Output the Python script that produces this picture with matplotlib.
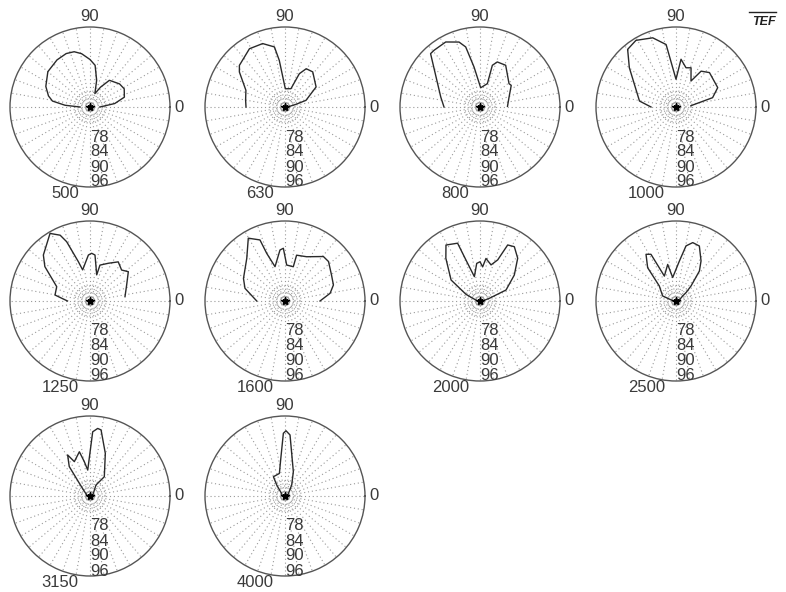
import numpy as np
import matplotlib
matplotlib.use("Agg")
import matplotlib.pyplot as plt

# polar directivity, levels in dB, angle in degrees (0 = right, 90 = up)
freqs = ["500", "630", "800", "1000", "1250", "1600", "2000", "2500", "3150", "4000"]
ring_labels = [78, 84, 90, 96]

ang_500 = [0, 8, 16, 28, 38, 54, 62, 70, 76, 83, 90, 99, 106, 114, 125, 140, 155, 165, 171, 176, 180]
lev_500 = [70, 76, 80.3, 81.5, 81, 79.2, 75, 71.7, 77, 82.8, 85, 87.6, 89, 89.4, 89, 88, 85.5, 83.2, 81.2, 76, 70]

ang_630 = [0, 13.6, 17.6, 32.8, 51.7, 61, 66.7, 72, 89, 97, 100, 109.4, 121.4, 137.6, 142.5, 156.9, 170, 180]
lev_630 = [67, 70.5, 74.8, 80.8, 83.9, 83.5, 80.5, 73.7, 73.3, 84.8, 90.4, 92.9, 93.3, 90.7, 89, 83, 82, 81.6]

ang_800 = [1.4, 19, 34.7, 38.8, 58.4, 69, 73.5, 72.5, 88, 98.5, 103.4, 107.9, 117.8, 129, 132.8, 165.7, 180]
lev_800 = [77, 78.3, 81.2, 80.9, 85.6, 85.3, 83.4, 75.8, 73.7, 82.2, 90.7, 93.3, 95.4, 95.2, 95.1, 82.2, 80.4]

ang_1000 = [5, 14.3, 24.9, 45.8, 55, 60, 69, 75.7, 84, 90, 99, 108.6, 121, 130, 139.9, 170.7, 180]
lev_1000 = [72, 81.1, 84.4, 85.2, 83.5, 78, 82.8, 82.2, 85.2, 77.1, 91.3, 95.2, 97.1, 96.1, 90.4, 80.8, 76]

ang_1250 = [7, 23.6, 37.4, 44.4, 54.2, 64, 74.5, 75.6, 83.8, 88, 92, 103.3, 106.5, 111.5, 114.4, 120.6, 135.4, 142.7, 156.7, 170.3, 180]
lev_1250 = [80.1, 82, 85.3, 83.7, 85.3, 82.8, 80.9, 76.8, 84.5, 85.1, 84.4, 78.8, 82.4, 91.5, 94.9, 97.4, 92.2, 88.7, 80.5, 80.2, 75]

ang_1600 = [0, 9.7, 18.3, 29.1, 42.2, 49.2, 64, 75.8, 76.4, 87.3, 91.8, 95.6, 106.2, 111, 112.3, 120.3, 131.9, 151.5, 162.4, 180]
lev_1600 = [80, 84.3, 86.4, 87.3, 89.5, 89.5, 85.7, 84.9, 80.1, 80.4, 87.1, 86.5, 80.3, 86.4, 92.4, 95.1, 88.9, 84.9, 82.8, 77.3]

ang_2000 = [0, 16, 22.9, 37.1, 48.6, 57.7, 63.7, 66.7, 73, 82, 85.6, 90, 95, 103, 108.9, 111.2, 121.3, 128.6, 144, 154.5, 180]
lev_2000 = [67, 69.9, 77.3, 83.2, 88.8, 91.7, 91, 83.9, 81.1, 83.2, 79.7, 81.7, 81.1, 76, 83.3, 90.8, 92.2, 87.9, 80.3, 72.2, 67]

ang_2500 = [0, 36.9, 39.8, 45, 52, 58, 67, 74, 79.7, 85.2, 98, 102.8, 115, 118.2, 122.7, 130.4, 138, 159.4, 180]
lev_2500 = [67, 69.3, 71.2, 74.5, 81.2, 84.9, 89.9, 90.3, 88.4, 82, 75.5, 81, 77, 87.2, 88.2, 83.5, 75, 71.7, 67]

ang_3150 = [0, 61.4, 53.4, 70.2, 80.5, 83.5, 87.6, 95, 99.4, 103.5, 114.5, 118.6, 125.2, 130, 140, 180]
lev_3150 = [67, 71, 75.6, 84.1, 92.8, 93.2, 91.7, 76.4, 79.9, 84.2, 81.1, 84.7, 80.4, 72.6, 69, 67]

ang_4000 = [0, 58.8, 71.1, 85.3, 89.1, 91.5, 96.9, 104, 121, 127, 140, 180]
lev_4000 = [67, 71.2, 76.3, 90.5, 92.1, 91.1, 80.5, 75.3, 75, 71.5, 68, 67]

curves = [(ang_500, lev_500), (ang_630, lev_630), (ang_800, lev_800),
          (ang_1000, lev_1000), (ang_1250, lev_1250), (ang_1600, lev_1600),
          (ang_2000, lev_2000), (ang_2500, lev_2500), (ang_3150, lev_3150),
          (ang_4000, lev_4000)]

plt.rcParams["font.family"] = "Liberation Sans"

W, H = 786, 592
fig = plt.figure(figsize=(W / 100, H / 100), dpi=100)

col_x = [90, 285, 480, 676]
row_y = [107, 301, 496]
R = 80
txt = "#3a3a3a"
fs = 12

for i, (f, (ang, lev)) in enumerate(zip(freqs, curves)):
    cx = col_x[i % 4]
    cy = row_y[i // 4]
    ax = fig.add_axes([(cx - R) / W, 1 - (cy + R) / H, 2 * R / W, 2 * R / H],
                      projection="polar")
    ax.set_ylim(66, 98)
    ax.set_xticks(np.deg2rad(np.arange(0, 360, 10)))
    ax.set_yticks([68, 70, 72])
    ax.set_xticklabels([])
    ax.set_yticklabels([])
    ax.grid(True, color="#999999", linestyle=(0, (1, 2.5)), linewidth=0.8)
    ax.spines["polar"].set_color("#555555")
    ax.spines["polar"].set_linewidth(1.0)

    ax.plot(np.deg2rad(ang), lev, color="#2a2a2a", linewidth=1.0)
    ax.plot([0], [66], marker="*", color="black", markersize=6)

    for r in ring_labels:
        ax.text(np.deg2rad(270), r, str(r), ha="left", va="center",
                fontsize=fs, color=txt)
    ax.text(0.5, 1.02, "90", transform=ax.transAxes, ha="center",
            va="bottom", fontsize=fs, color=txt)
    ax.text(1.025, 0.5, "0", transform=ax.transAxes, ha="left",
            va="center", fontsize=fs, color=txt)
    ax.text(0.43, -0.04, f, transform=ax.transAxes, ha="right",
            va="center", fontsize=fs, color=txt)

fig.text(0.987, 0.962, "TEF", ha="right", va="center", fontsize=9,
         style="italic", weight="bold", color="#222222")
fig.add_artist(plt.Line2D([0.953, 0.987], [0.979, 0.979], color="#222222",
                          linewidth=1.0, transform=fig.transFigure))

fig.savefig("out.png", dpi=100)
